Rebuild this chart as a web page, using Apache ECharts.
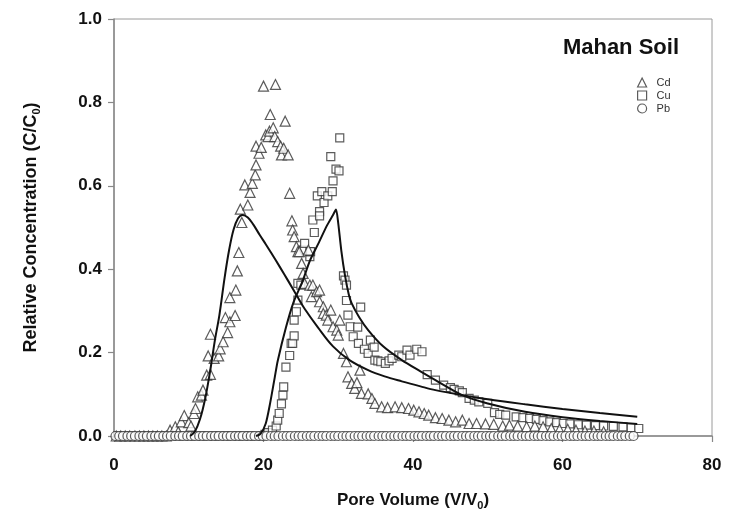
<!DOCTYPE html>
<html>
<head>
<meta charset="utf-8">
<script src="https://cdn.jsdelivr.net/npm/echarts@6/dist/echarts.min.js"></script>
<style>html,body{margin:0;padding:0;background:#fff}#c{width:730px;height:525px}</style>
</head>
<body>
<div id="c"></div>
<script>
var xTicks = [0, 20, 40, 60, 80];
var yTicks = [0.0, 0.2, 0.4, 0.6, 0.8, 1.0];

var cdZeroX = [0.3,0.9,1.5,2.1,2.8,3.4,4.0,4.6,5.2,5.8,6.4,7.0];
var cdData = [[7.5,0.014],[8.2,0.022],[8.6,0.01],[9.0,0.034],[9.4,0.049],[10.0,0.032],[10.3,0.024],[10.7,0.054],[10.9,0.066],[11.2,0.094],[11.7,0.098],[11.9,0.110],[12.4,0.146],[12.6,0.192],[12.9,0.148],[12.9,0.244],[13.4,0.186],[14.0,0.192],[14.2,0.209],[14.6,0.226],[14.9,0.284],[15.2,0.248],[15.5,0.274],[15.5,0.332],[16.2,0.289],[16.3,0.350],[16.5,0.396],[16.7,0.440],[16.9,0.544],[17.1,0.512],[17.5,0.602],[17.9,0.554],[18.2,0.584],[18.5,0.606],[18.9,0.626],[19.0,0.650],[19.0,0.695],[19.4,0.678],[19.7,0.692],[20.0,0.839],[20.3,0.722],[20.6,0.718],[20.8,0.731],[20.9,0.771],[21.3,0.739],[21.5,0.718],[21.6,0.843],[21.9,0.706],[22.3,0.695],[22.4,0.674],[22.7,0.690],[22.9,0.755],[23.3,0.674],[23.5,0.582],[23.8,0.516],[23.9,0.494],[24.1,0.478],[24.4,0.454],[24.6,0.442],[24.8,0.442],[25.1,0.414],[25.3,0.390],[25.5,0.366],[26.0,0.446],[26.2,0.362],[26.4,0.334],[26.6,0.362],[27.1,0.346],[27.5,0.322],[27.5,0.350],[28.0,0.310],[28.0,0.294],[28.4,0.290],[28.6,0.278],[29.0,0.302],[29.3,0.262],[29.8,0.254],[30.0,0.242],[30.2,0.278],[30.7,0.198],[31.1,0.178],[31.3,0.142],[31.8,0.126],[32.2,0.114],[32.5,0.128],[32.9,0.158],[33.1,0.102],[34.0,0.101],[34.5,0.090],[34.9,0.078],[35.8,0.070],[36.6,0.068],[37.6,0.070],[38.5,0.068],[39.4,0.066],[40.1,0.062],[40.8,0.058],[41.5,0.054],[42.1,0.050],[43.0,0.044],[43.9,0.042],[44.8,0.038],[45.7,0.034],[46.6,0.038],[47.5,0.030],[48.5,0.030],[49.7,0.029],[50.8,0.028],[52.0,0.024],[52.9,0.026],[54.0,0.024],[55.2,0.022],[56.3,0.024],[57.4,0.022],[58.5,0.018],[59.6,0.016],[60.7,0.016],[61.8,0.014],[63.0,0.012],[64.2,0.012],[65.5,0.010]];

var cuZeroX = [0.5,1.3,2.1,2.9,3.7,4.5,5.3,6.1,6.9,7.7,8.5,9.3,10.1,10.9,11.7,12.5,13.3,14.1,14.9,15.7,16.5,17.3,18.1,18.9,19.7];
var cuData = [[20.2,0.004],[20.6,0.008],[21.2,0.014],[21.7,0.024],[21.9,0.038],[22.1,0.054],[22.4,0.077],[22.6,0.098],[22.7,0.118],[23.0,0.165],[23.5,0.193],[23.7,0.222],[23.9,0.222],[24.1,0.240],[24.1,0.278],[24.4,0.298],[24.6,0.326],[24.6,0.366],[25.0,0.362],[25.3,0.446],[25.5,0.462],[26.2,0.430],[26.2,0.442],[26.3,0.442],[26.6,0.518],[26.8,0.488],[27.2,0.576],[27.5,0.538],[27.5,0.528],[27.8,0.586],[28.1,0.560],[28.6,0.576],[29.0,0.670],[29.2,0.586],[29.3,0.612],[29.7,0.640],[30.1,0.636],[30.2,0.715],[30.7,0.384],[30.9,0.374],[31.1,0.362],[31.1,0.325],[31.3,0.290],[31.6,0.262],[32.0,0.238],[32.6,0.261],[32.7,0.222],[33.0,0.309],[33.5,0.208],[34.0,0.198],[34.3,0.230],[34.8,0.213],[34.9,0.182],[35.3,0.180],[35.7,0.178],[36.3,0.174],[36.8,0.180],[37.2,0.186],[38.1,0.194],[38.5,0.190],[39.2,0.206],[39.6,0.194],[40.5,0.208],[41.2,0.202],[41.9,0.147],[43.0,0.134],[44.1,0.122],[45.0,0.116],[45.5,0.112],[46.2,0.108],[46.6,0.104],[47.5,0.090],[48.2,0.086],[48.8,0.082],[50.0,0.078],[50.9,0.056],[51.6,0.052],[52.4,0.050],[53.8,0.046],[54.7,0.044],[55.6,0.042],[56.5,0.040],[57.4,0.037],[58.3,0.034],[59.2,0.032],[60.1,0.030],[61.0,0.029],[62.1,0.027],[63.2,0.026],[64.4,0.025],[65.5,0.024],[66.8,0.023],[68.1,0.022],[69.2,0.020],[70.2,0.018]];

var pbX = [0.2,0.7,1.2,1.8,2.3,2.8,3.4,3.9,4.4,5.0,5.5,6.0,6.6,7.1,7.6,8.2,8.7,9.2,9.8,10.3,10.8,11.4,11.9,12.4,13.0,13.5,14.0,14.6,15.1,15.6,16.2,16.7,17.2,17.8,18.3,18.8,19.4,19.9,20.4,21.0,21.5,22.0,22.6,23.1,23.6,24.2,24.7,25.2,25.8,26.3,26.8,27.4,27.9,28.4,29.0,29.5,30.0,30.6,31.1,31.6,32.2,32.7,33.2,33.8,34.3,34.8,35.4,35.9,36.4,37.0,37.5,38.0,38.6,39.1,39.6,40.2,40.7,41.2,41.8,42.3,42.8,43.4,43.9,44.4,45.0,45.5,46.0,46.6,47.1,47.6,48.2,48.7,49.2,49.8,50.3,50.8,51.4,51.9,52.4,53.0,53.5,54.0,54.6,55.1,55.6,56.2,56.7,57.2,57.8,58.3,58.8,59.4,59.9,60.4,61.0,61.5,62.0,62.6,63.1,63.6,64.2,64.7,65.2,65.8,66.3,66.8,67.4,67.9,68.4,69.0,69.5];
var pbY = 0;

var cdFit = [[10.2,0],[10.8,0.01],[11.5,0.04],[12.2,0.09],[12.9,0.16],[13.5,0.23],[14.1,0.29],[14.8,0.38],[15.4,0.446],[16.0,0.495],[16.6,0.522],[17.2,0.53],[17.9,0.524],[18.6,0.508],[19.5,0.482],[20.3,0.46],[21.0,0.44],[22.2,0.405],[23.3,0.372],[24.5,0.335],[25.5,0.305],[27.3,0.26],[29.3,0.215],[31.5,0.182],[34.0,0.158],[36.2,0.143],[38.5,0.131],[41.0,0.119],[43.0,0.110],[46.6,0.098],[50,0.088],[55,0.076],[60,0.065],[65,0.055],[70,0.046]];
var cuFit = [[19.0,0],[19.6,0.005],[20.3,0.03],[20.9,0.08],[21.5,0.14],[21.9,0.18],[23.0,0.26],[24.0,0.32],[25.2,0.37],[26.2,0.42],[27.3,0.46],[28.5,0.505],[29.3,0.53],[29.7,0.543],[30.0,0.51],[30.4,0.446],[30.9,0.385],[31.4,0.34],[31.8,0.318],[32.8,0.285],[34.0,0.254],[36.0,0.215],[38.5,0.182],[41,0.155],[43,0.134],[46.6,0.098],[50,0.078],[55,0.058],[60,0.045],[65,0.036],[70,0.029]];

var FONT = '"Liberation Sans", Arial, sans-serif';
var mk = {color: '#ffffff', borderColor: '#333333', borderWidth: 1.2};

var chart = echarts.init(document.getElementById('c'), null, {renderer: 'canvas'});
chart.setOption({
  animation: false,
  backgroundColor: '#ffffff',
  textStyle: {fontFamily: FONT},
  title: {
    text: 'Mahan Soil', right: 46, top: 32,
    textStyle: {fontFamily: FONT, fontSize: 22, fontWeight: 'bold', color: '#111'}
  },
  legend: {
    orient: 'vertical', left: 632, top: 72, itemGap: 2,
    itemWidth: 9, itemHeight: 9,
    textStyle: {fontFamily: FONT, fontSize: 11, color: '#333', padding: [0,0,0,5]},
    data: [
      {name: 'Cd', icon: 'triangle', itemStyle: mk},
      {name: 'Cu', icon: 'rect', itemStyle: mk},
      {name: 'Pb', icon: 'circle', itemStyle: mk}
    ]
  },
  grid: {left: 114, right: 18, top: 19, bottom: 89, show: true, borderColor: '#9a9a9a', borderWidth: 1, backgroundColor: 'transparent'},
  xAxis: {
    type: 'value', min: 0, max: 80, interval: 20,
    name: '{a|Pore Volume (V/V}{b|0}{a|)}', nameLocation: 'middle', nameGap: 54,
    nameTextStyle: {rich: {
      a: {fontFamily: FONT, fontSize: 17, fontWeight: 'bold', color: '#111'},
      b: {fontFamily: FONT, fontSize: 11, fontWeight: 'bold', color: '#111', padding: [10,0,0,0]}
    }},
    axisLine: {show: true, lineStyle: {color: '#888', width: 1.5}},
    axisTick: {show: true, length: 6, lineStyle: {color: '#888', width: 1.2}},
    axisLabel: {margin: 21, fontFamily: FONT, fontSize: 17, fontWeight: 'bold', color: '#111',
      formatter: function (v) { return xTicks.indexOf(v) >= 0 ? String(v) : ''; }},
    splitLine: {show: false}
  },
  yAxis: {
    type: 'value', min: 0, max: 1, interval: 0.2,
    name: '{a|Relative Concentration (C/C}{b|0}{a|)}', nameLocation: 'middle', nameGap: 72, nameRotate: 90,
    nameTextStyle: {rich: {
      a: {fontFamily: FONT, fontSize: 18, fontWeight: 'bold', color: '#111'},
      b: {fontFamily: FONT, fontSize: 11, fontWeight: 'bold', color: '#111', padding: [10,0,0,0]}
    }},
    axisLine: {show: true, lineStyle: {color: '#888', width: 1.5}},
    axisTick: {show: true, length: 6, lineStyle: {color: '#888', width: 1.2}},
    axisLabel: {margin: 12, fontFamily: FONT, fontSize: 17, fontWeight: 'bold', color: '#111',
      formatter: function (v) {
        for (var i = 0; i < yTicks.length; i++) { if (Math.abs(yTicks[i] - v) < 1e-9) return yTicks[i].toFixed(1); }
        return '';
      }},
    splitLine: {show: false}
  },
  series: [
    {name: 'Pb', type: 'scatter', symbol: 'circle', symbolSize: 9, itemStyle: mk, z: 3,
      data: pbX.map(function (x) { return [x, pbY]; })},
    {name: 'Cu', type: 'scatter', symbol: 'rect', symbolSize: 8, itemStyle: mk, z: 2,
      data: cuZeroX.map(function (x) { return [x, 0]; }).concat(cuData)},
    {name: 'Cd', type: 'scatter', symbol: 'triangle', symbolSize: 10, itemStyle: mk, z: 2,
      data: cdZeroX.map(function (x) { return [x, 0]; }).concat(cdData)},
    {name: 'Cd fit', type: 'line', data: cdFit, smooth: 0.35, showSymbol: false, symbol: 'none',
      lineStyle: {color: '#111', width: 2}, z: 4},
    {name: 'Cu fit', type: 'line', data: cuFit, smooth: 0.25, showSymbol: false, symbol: 'none',
      lineStyle: {color: '#111', width: 2}, z: 4}
  ]
});
</script>
</body>
</html>
